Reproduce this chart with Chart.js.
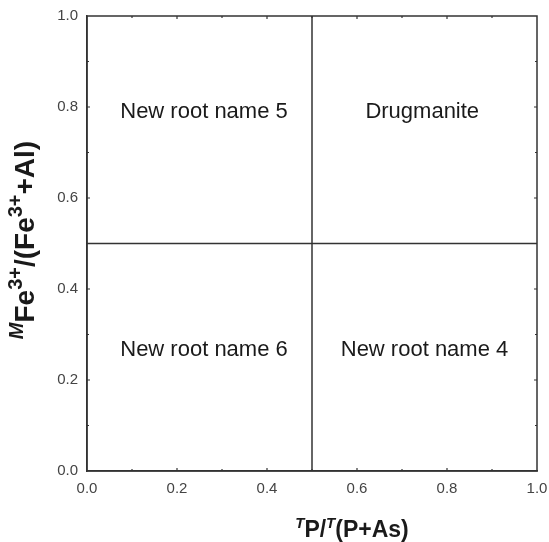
<!DOCTYPE html>
<html>
<head>
<meta charset="utf-8">
<script src="https://cdn.jsdelivr.net/npm/chart.js@4/dist/chart.umd.min.js"></script>
<style>
html,body{margin:0;padding:0;background:#fff;}
#wrap{width:549px;height:542px;position:relative;}
</style>
</head>
<body>
<div id="wrap"><canvas id="c"></canvas></div>
<script>
// ---- data ----
const axisMin = 0, axisMax = 1;
const majorStep = 0.2, minorStep = 0.1;
const tickLabels = ["0.0","0.2","0.4","0.6","0.8","1.0"];
const boundaryX = 0.5;
const boundaryY = 0.5;
const regionNames = ["New root name 5", "Drugmanite", "New root name 6", "New root name 4"];
const regionX = [0.26, 0.745, 0.26, 0.75];
const regionY = [0.79, 0.79, 0.265, 0.265];
const xTitleParts = [["T","sup"],["P","b"],["/","b"],["T","sup"],["(P+As)","b"]];
const yTitleParts = [["M","sup"],["Fe","b"],["3+","sup3"],["/(Fe","b"],["3+","sup3"],["+Al)","b"]];

const INK = "#333";
const FONT = "'Liberation Sans', Arial, sans-serif";

function drawRich(ctx, parts, cx, baseY, fonts) {
  let total = 0;
  const widths = parts.map(p => { ctx.font = fonts[p[1]].font; const w = ctx.measureText(p[0]).width; total += w; return w; });
  let x = cx - total / 2;
  ctx.textAlign = "left";
  ctx.textBaseline = "alphabetic";
  parts.forEach((p, i) => {
    ctx.font = fonts[p[1]].font;
    ctx.fillText(p[0], x, baseY + fonts[p[1]].dy);
    x += widths[i];
  });
}

const xFonts = {
  b: {font: "bold 23px " + FONT, dy: 0},
  sup: {font: "italic bold 15px " + FONT, dy: -9},
  sup3: {font: "bold 15px " + FONT, dy: -10}
};
const yFonts = {
  b: {font: "bold 28px " + FONT, dy: 0},
  sup: {font: "italic bold 20px " + FONT, dy: -11},
  sup3: {font: "bold 20px " + FONT, dy: -12}
};

const overlay = {
  id: "overlay",
  afterDatasetsDraw(chart) {
    const ctx = chart.ctx;
    const a = chart.chartArea;
    const xs = chart.scales.x, ys = chart.scales.y;
    ctx.save();
    // frame
    ctx.strokeStyle = INK;
    ctx.lineWidth = 1.5;
    ctx.strokeRect(a.left, a.top, a.right - a.left, a.bottom - a.top);
    // inward ticks on all four sides
    ctx.lineWidth = 1.2;
    const n = Math.round((axisMax - axisMin) / minorStep);
    for (let i = 1; i < n; i++) {
      const v = axisMin + i * minorStep;
      const len = (i % 2 === 0) ? 3 : 2;
      const px = xs.getPixelForValue(v);
      const py = ys.getPixelForValue(v);
      ctx.beginPath();
      ctx.moveTo(px, a.bottom); ctx.lineTo(px, a.bottom - len);
      ctx.moveTo(px, a.top); ctx.lineTo(px, a.top + len);
      ctx.moveTo(a.left, py); ctx.lineTo(a.left + len, py);
      ctx.moveTo(a.right, py); ctx.lineTo(a.right - len, py);
      ctx.stroke();
    }
    // region labels
    ctx.fillStyle = "#1a1a1a";
    ctx.font = "22px " + FONT;
    ctx.textAlign = "center";
    ctx.textBaseline = "middle";
    regionNames.forEach((t, i) => {
      ctx.fillText(t, xs.getPixelForValue(regionX[i]), ys.getPixelForValue(regionY[i]));
    });
    // axis titles
    ctx.fillStyle = "#1a1a1a";
    drawRich(ctx, xTitleParts, 352, 537, xFonts);
    ctx.save();
    ctx.translate(34, 240);
    ctx.rotate(-Math.PI / 2);
    drawRich(ctx, yTitleParts, 0, 0, yFonts);
    ctx.restore();
    ctx.restore();
  }
};

const tickCb = function(value) {
  const idx = Math.round((value - axisMin) / majorStep);
  return tickLabels[idx];
};

new Chart(document.getElementById("c"), {
  type: "scatter",
  data: {
    datasets: [
      { data: [{x: boundaryX, y: axisMin}, {x: boundaryX, y: axisMax}], showLine: true, borderColor: INK, borderWidth: 1.5, pointRadius: 0, fill: false },
      { data: [{x: axisMin, y: boundaryY}, {x: axisMax, y: boundaryY}], showLine: true, borderColor: INK, borderWidth: 1.5, pointRadius: 0, fill: false }
    ]
  },
  options: {
    responsive: true,
    maintainAspectRatio: false,
    animation: false,
    events: [],
    layout: { padding: { top: 16, right: 12, left: 0, bottom: 0 } },
    plugins: { legend: { display: false }, tooltip: { enabled: false } },
    scales: {
      x: {
        type: "linear", min: axisMin, max: axisMax,
        grid: { display: false, drawTicks: false },
        border: { display: true, color: INK, width: 1.5 },
        ticks: { stepSize: majorStep, callback: tickCb, padding: 9, color: "#444", font: { family: FONT, size: 15 }, maxRotation: 0 },
        afterFit(s) { s.height = 71; s.paddingLeft = 0; s.paddingRight = 0; }
      },
      y: {
        type: "linear", min: axisMin, max: axisMax,
        grid: { display: false, drawTicks: false },
        border: { display: true, color: INK, width: 1.5 },
        ticks: { stepSize: majorStep, callback: tickCb, padding: 9, color: "#444", font: { family: FONT, size: 15 } },
        afterFit(s) { s.width = 87; s.paddingTop = 0; s.paddingBottom = 0; }
      }
    }
  },
  plugins: [overlay]
});
</script>
</body>
</html>
